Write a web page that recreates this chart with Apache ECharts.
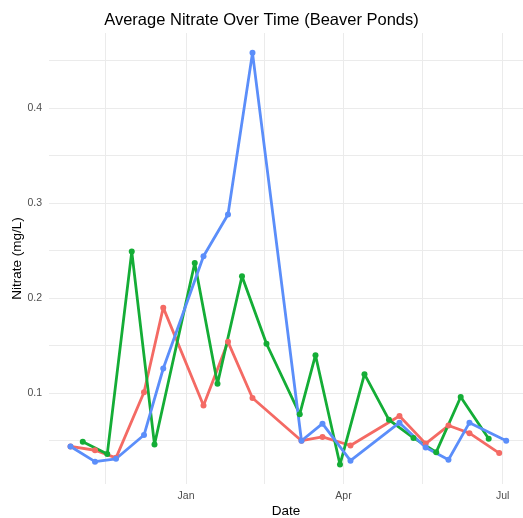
<!DOCTYPE html>
<html>
<head>
<meta charset="utf-8">
<script src="https://cdn.jsdelivr.net/npm/echarts@6/dist/echarts.min.js"></script>
<style>
html, body { margin: 0; padding: 0; background: #fff; }
#main { width: 523px; height: 518px; }
</style>
</head>
<body>
<div id="main"></div>
<script>
// sampling dates per pond and average nitrate (mg/L)
var redDates = ['2018-10-27','2018-11-10','2018-11-22','2018-12-08','2018-12-19','2019-01-11','2019-01-25','2019-02-08','2019-03-08','2019-03-20','2019-04-05','2019-05-03','2019-05-18','2019-05-31','2019-06-12','2019-06-29'];
var redValues = [0.044, 0.040, 0.032, 0.101, 0.190, 0.087, 0.154, 0.095, 0.050, 0.054, 0.045, 0.076, 0.047, 0.066, 0.058, 0.037];

var greenDates = ['2018-11-03','2018-11-17','2018-12-01','2018-12-14','2019-01-06','2019-01-19','2019-02-02','2019-02-16','2019-03-07','2019-03-16','2019-03-30','2019-04-13','2019-04-27','2019-05-11','2019-05-24','2019-06-07','2019-06-23'];
var greenValues = [0.049, 0.036, 0.249, 0.046, 0.237, 0.110, 0.223, 0.152, 0.078, 0.140, 0.025, 0.120, 0.072, 0.053, 0.038, 0.096, 0.052];

var blueDates = ['2018-10-27','2018-11-10','2018-11-22','2018-12-08','2018-12-19','2019-01-11','2019-01-25','2019-02-08','2019-03-08','2019-03-20','2019-04-05','2019-05-03','2019-05-18','2019-05-31','2019-06-12','2019-07-03'];
var blueValues = [0.044, 0.028, 0.031, 0.056, 0.126, 0.244, 0.288, 0.458, 0.050, 0.068, 0.029, 0.069, 0.043, 0.030, 0.069, 0.050];

var xGridDates = ['2018-11-16','2019-01-01','2019-02-15','2019-04-01','2019-05-16','2019-07-01'];
var xLabelDates = ['2019-01-01','2019-04-01','2019-07-01'];
var monthNames = ['Jan','Feb','Mar','Apr','May','Jun','Jul','Aug','Sep','Oct','Nov','Dec'];
var yGridValues = [0.05, 0.1, 0.15, 0.2, 0.25, 0.3, 0.35, 0.4, 0.45];
var yLabelValues = [0.1, 0.2, 0.3, 0.4];

var t = function (s) { return +echarts.time.parse(s); };
var DAY = 86400000;
var jan1 = t('2019-01-01');

function pairs(dates, vals) {
  return dates.map(function (d, i) { return [t(d), vals[i]]; });
}

var myChart = echarts.init(document.getElementById('main'));

var font = 'Liberation Sans, Arial, sans-serif';
var grid = { color: '#ebebeb', width: 1 };

var option = {
  animation: false,
  textStyle: { fontFamily: font },
  title: {
    text: 'Average Nitrate Over Time (Beaver Ponds)',
    left: 'center',
    top: 7,
    textStyle: { fontSize: 16.5, fontWeight: 'normal', color: '#000', fontFamily: font }
  },
  grid: { left: 49, right: 0, top: 33, bottom: 34, outerBoundsMode: 'none', containLabel: false },
  xAxis: {
    // dates as timestamps on a value scale so the gridlines can sit on the chosen dates
    type: 'value',
    min: jan1 - 78.3 * DAY,
    max: jan1 + 192.6 * DAY,
    name: 'Date',
    nameLocation: 'middle',
    nameGap: 20,
    nameMoveOverlap: false,
    nameTextStyle: { fontSize: 13.5, color: '#000' },
    axisLine: { show: false },
    axisTick: { show: false, customValues: xGridDates.map(t) },
    splitLine: { show: true, lineStyle: grid },
    axisLabel: {
      customValues: xLabelDates.map(t),
      color: '#4d4d4d',
      fontSize: 10.5,
      margin: 7,
      formatter: function (v) { return monthNames[new Date(v).getMonth()]; }
    }
  },
  yAxis: {
    type: 'value',
    min: 0.0045,
    max: 0.4789,
    name: 'Nitrate (mg/L)',
    nameLocation: 'middle',
    nameGap: 25,
    nameMoveOverlap: false,
    nameRotate: 90,
    nameTextStyle: { fontSize: 13.5, color: '#000' },
    axisLine: { show: false },
    axisTick: { show: false, customValues: yGridValues },
    splitLine: { show: true, lineStyle: grid },
    axisLabel: {
      customValues: yLabelValues,
      color: '#4d4d4d',
      fontSize: 10.5,
      margin: 7,
      formatter: function (v) { return v.toFixed(1); }
    }
  },
  series: [
    {
      name: 'red', type: 'line', data: pairs(redDates, redValues),
      symbol: 'circle', symbolSize: 6,
      lineStyle: { width: 2.8, color: '#F46A64' },
      itemStyle: { color: '#F46A64' }
    },
    {
      name: 'green', type: 'line', data: pairs(greenDates, greenValues),
      symbol: 'circle', symbolSize: 6,
      lineStyle: { width: 2.8, color: '#14AD36' },
      itemStyle: { color: '#14AD36' }
    },
    {
      name: 'blue', type: 'line', data: pairs(blueDates, blueValues),
      symbol: 'circle', symbolSize: 6,
      lineStyle: { width: 2.8, color: '#5B8EFA' },
      itemStyle: { color: '#5B8EFA' }
    }
  ]
};

myChart.setOption(option);
window.onresize = function () {
  myChart.resize();
};
</script>
</body>
</html>
